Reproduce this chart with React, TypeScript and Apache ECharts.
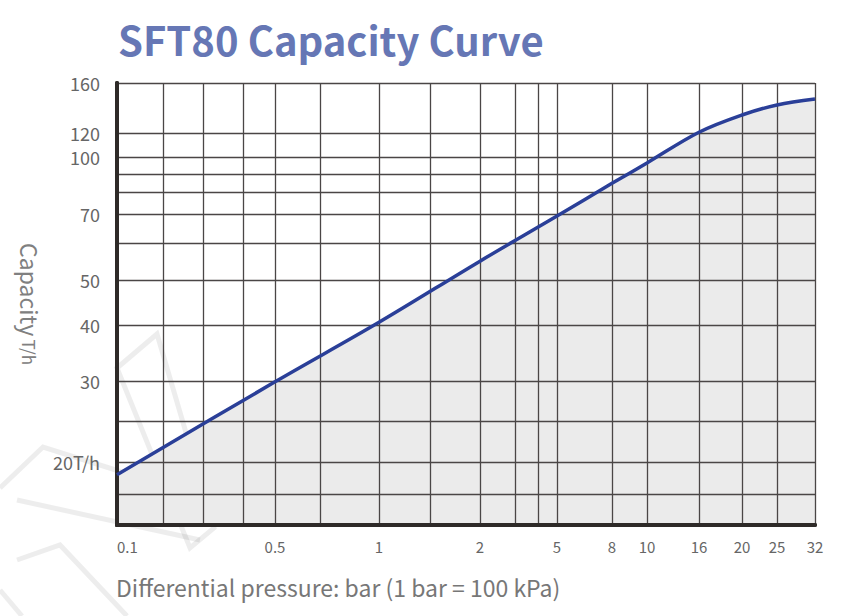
import { useEffect, useRef } from "react";
import * as echarts from "echarts";

// pressure axis (bar): grid values and where they sit along the axis (0..698)
const pressureGrid = [0.1, 0.2, 0.3, 0.4, 0.5, 0.7, 1, 1.5, 2, 3, 4, 5, 8, 10, 16, 20, 25, 32];
const pressureScale = [0, 46, 86, 126, 158, 203, 262, 313, 363, 398, 421, 440, 495, 530, 582, 625, 660, 698];
const pressureLabels = [0.1, 0.5, 1, 2, 5, 8, 10, 16, 20, 25, 32];

// capacity axis (T/h): grid values and their place along the axis (0..442)
const capacityGrid = [15, 17, 20, 25, 30, 40, 50, 60, 70, 80, 90, 100, 120, 160];
const capacityScale = [0, 31, 63, 104, 144, 200, 245, 282, 311, 333, 351, 368, 392, 442];
const capacityLabels = [20, 30, 40, 50, 70, 100, 120, 160];

// curve
const curvePressure = [0.1, 0.5, 1, 2, 5, 8, 10, 16, 20, 25, 32];
const curveCapacity = [18.8, 29.9, 40.6, 55.1, 69.3, 84.8, 96.5, 120.6, 134.4, 142.4, 147.2];

function toScale(v: number, grid: number[], scale: number[]) {
  for (let i = 0; i < grid.length - 1; i++) {
    if (v <= grid[i + 1]) {
      const t = (v - grid[i]) / (grid[i + 1] - grid[i]);
      return scale[i] + t * (scale[i + 1] - scale[i]);
    }
  }
  return scale[scale.length - 1];
}

export default function App() {
  const chartRef = useRef<HTMLDivElement>(null);

  useEffect(() => {
    document.body.style.margin = "0";
    if (!chartRef.current) return;
    const chart = echarts.init(chartRef.current, undefined, { renderer: "svg" });

    const xLabelPos = pressureLabels.map((v) => toScale(v, pressureGrid, pressureScale));
    const yLabelPos = capacityLabels.map((v) => toScale(v, capacityGrid, capacityScale));
    const points = curvePressure.map((p, i) => [
      toScale(p, pressureGrid, pressureScale),
      toScale(curveCapacity[i], capacityGrid, capacityScale),
    ]);

    const findLabel = (pos: number, posList: number[], labels: number[]) => {
      const i = posList.findIndex((p) => Math.abs(p - pos) < 0.01);
      return i < 0 ? "" : String(labels[i]);
    };

    const frame = { color: "#2e2a28", width: 4 };
    const gridLine = { color: "#4a4646", width: 1.3 };
    const font = "'Noto Sans CJK SC', 'Noto Sans', sans-serif";
    const wm = { stroke: "rgba(0,0,0,0.07)", lineWidth: 5, fill: "none" };

    const option: echarts.EChartsOption = {
      animation: false,
      backgroundColor: "#fff",
      title: {
        text: "SFT80 Capacity Curve",
        left: 113,
        top: 14,
        textStyle: { fontFamily: font, fontSize: 40, fontWeight: "bold", color: "#6677b5" },
      },
      grid: { left: 117, top: 83, width: 698, height: 442 },
      xAxis: [
        {
          type: "value",
          min: 0,
          max: 698,
          z: 5,
          axisLine: { show: true, lineStyle: frame },
          axisTick: { show: false, customValues: pressureScale },
          splitLine: { show: true, lineStyle: gridLine },
          axisLabel: {
            customValues: xLabelPos,
            formatter: (v: number) => findLabel(v, xLabelPos, pressureLabels),
            margin: 14,
            color: "#666",
            fontSize: 15,
            fontFamily: font,
            alignMinLabel: "left",
            showMinLabel: true,
            showMaxLabel: true,
          },
        },
        {
          type: "value",
          position: "top",
          min: 0,
          max: 698,
          z: 5,
          axisLine: { show: true, lineStyle: frame },
          axisTick: { show: false },
          axisLabel: { show: false },
          splitLine: { show: false },
        },
      ],
      yAxis: [
        {
          type: "value",
          min: 0,
          max: 442,
          z: 5,
          name: "{a|Capacity} {b|T/h}",
          nameLocation: "middle",
          nameRotate: -90,
          nameGap: 76,
          nameTextStyle: {
            rich: {
              a: { fontSize: 23, color: "#808080", fontFamily: font },
              b: { fontSize: 17, color: "#808080", fontFamily: font },
            },
          },
          axisLine: { show: true, lineStyle: frame },
          axisTick: { show: false, customValues: capacityScale },
          splitLine: { show: true, lineStyle: gridLine },
          axisLabel: {
            customValues: yLabelPos,
            formatter: (v: number) => {
              const s = findLabel(v, yLabelPos, capacityLabels);
              return s === "20" ? "20T/h" : s;
            },
            margin: 17,
            color: "#666",
            fontSize: 18,
            fontFamily: font,
            showMinLabel: true,
            showMaxLabel: true,
          },
        },
        {
          type: "value",
          position: "right",
          min: 0,
          max: 442,
          z: 5,
          axisLine: { show: true, lineStyle: frame },
          axisTick: { show: false },
          axisLabel: { show: false },
          splitLine: { show: false },
        },
      ],
      graphic: [
        {
          type: "text",
          left: 116,
          top: 575,
          style: {
            text: "Differential pressure: bar (1 bar = 100 kPa)",
            fontSize: 23,
            fontFamily: font,
            fill: "#777",
          },
        },
        {
          type: "group",
          silent: true,
          z: 100,
          children: [
            { type: "polygon", shape: { points: [[117, 368], [157, 334], [214, 528], [190, 548]] }, style: wm },
            { type: "polyline", shape: { points: [[0, 488], [43, 447], [157, 483]] }, style: wm },
            { type: "polyline", shape: { points: [[17, 500], [200, 540]] }, style: wm },
            { type: "polyline", shape: { points: [[17, 560], [60, 545], [127, 616]] }, style: wm },
            { type: "polyline", shape: { points: [[0, 590], [22, 616]] }, style: wm },
          ],
        },
      ],
      series: [
        {
          type: "line",
          data: points,
          smooth: 0.35,
          symbol: "none",
          z: 1,
          lineStyle: { width: 0 },
          areaStyle: { color: "#ebebeb", opacity: 1, origin: "start" },
        },
        {
          type: "line",
          data: points,
          smooth: 0.35,
          symbol: "none",
          z: 10,
          lineStyle: { color: "#2a3f98", width: 3.5 },
        },
      ],
    };
    chart.setOption(option);

    return () => {
      chart.dispose();
    };
  }, []);

  return <div ref={chartRef} style={{ width: "862px", height: "616px" }} />;
}
